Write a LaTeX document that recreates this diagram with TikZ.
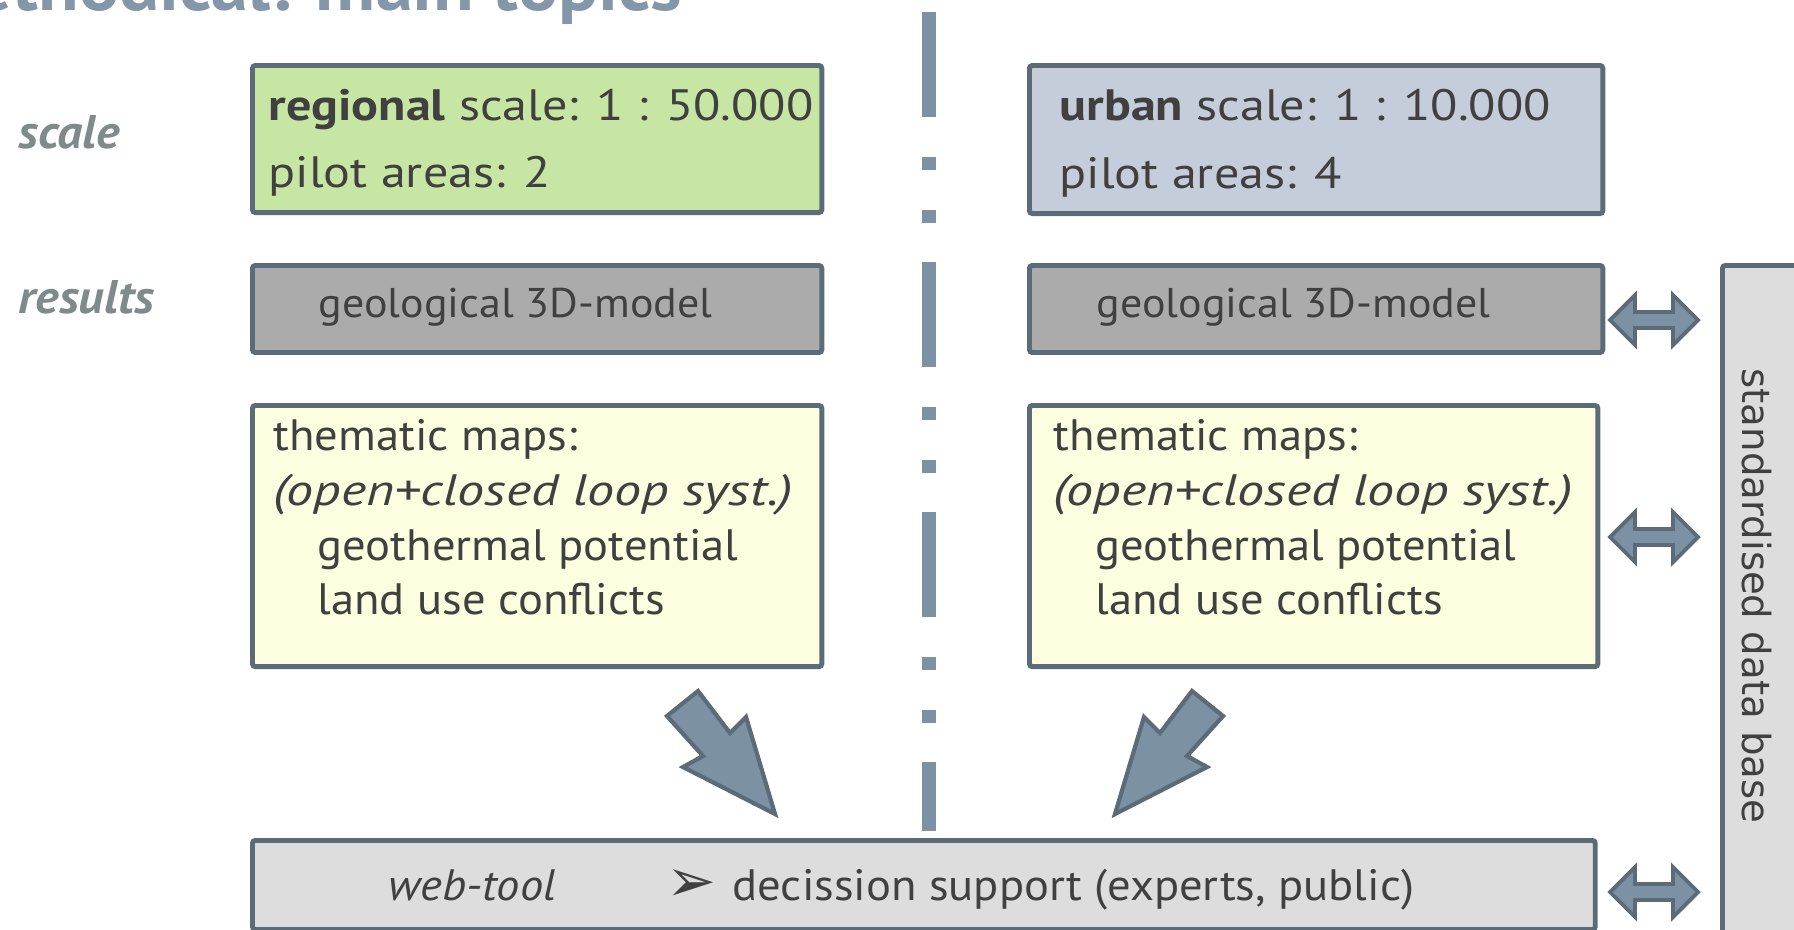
\documentclass[tikz,border=0pt]{standalone}
\usepackage{fontspec}
\setmainfont{PT Sans}[FakeStretch=1.06]
\newfontfamily\widefont{PT Sans}[FakeStretch=1.14]
\newfontfamily\wideit{PT Sans}[FakeStretch=1.23]
\newfontfamily\symfont{DejaVu Sans}

\definecolor{frame}{HTML}{5C6B78}
\definecolor{steel}{HTML}{7D91A5}
\definecolor{ink}{HTML}{404040}
\definecolor{labelc}{HTML}{7F8B8B}
\definecolor{titlec}{HTML}{8496A9}
\definecolor{greenf}{HTML}{C8E6A3}
\definecolor{bluef}{HTML}{C4CDD9}
\definecolor{darkf}{HTML}{ABABAB}
\definecolor{yellowf}{HTML}{FDFDDF}
\definecolor{lightf}{HTML}{DDDDDD}

\tikzset{
  box/.style={draw=frame, line width=1.4pt, rounded corners=0.8pt, anchor=north west, inner sep=0pt},
  txt/.style={anchor=base west, inner sep=0pt, text=ink, font=\fontsize{12.5}{14}\selectfont},
  toptxt/.style={txt, font=\widefont\fontsize{12.5}{14}\selectfont},
  rowlabel/.style={anchor=base west, inner sep=0pt, text=labelc, font=\fontsize{13.4}{15}\selectfont\bfseries\itshape},
  dblarrow/.style={draw=frame, fill=steel, line width=1.1pt, line join=miter},
  bigarrow/.style={draw=frame, fill=steel, line width=1.2pt, line join=miter},
  sepline/.style={steel, line width=0.14cm, dash pattern=on 1.05cm off 0.4cm on 0.13cm off 0.4cm on 0.13cm off 0.39cm}
}

\begin{document}
\begin{tikzpicture}[x=0.01cm, y=-0.01cm]
	\useasboundingbox (0,0) rectangle (1794,929);

	% title, cut by the top edge
	\node[anchor=base east, inner sep=0pt, text=titlec, font=\fontsize{20}{24}\selectfont\bfseries] (title) at (683,10) {Methodical: main topics};

	% row labels
	\node[rowlabel] (lscale) at (18,148) {scale};
	\node[rowlabel] (lresults) at (18,313) {results};

	% separator
	\draw[sepline] (929,12) -- (929,831);

	% left column
	\node[box, fill=greenf, minimum width=5.69cm, minimum height=1.47cm] (regional) at (250,63) {};
	\node[toptxt] (regT) at (268,120) {\textbf{regional} scale: 1 : 50.000};
	\node[toptxt] (regP) at (268,187) {pilot areas: 2};
	\node[box, fill=darkf, minimum width=5.69cm, minimum height=0.87cm] (geoL) at (250,263) {};
	\node[txt, font=\fontsize{11.8}{14}\selectfont] (geoLT) at (318,317) {geological 3D-model};
	\node[box, fill=yellowf, minimum width=5.69cm, minimum height=2.61cm] (themL) at (250,403) {};
	\node[txt] (thL1) at (273,450) {thematic maps:};
	\node[txt, font=\wideit\itshape\fontsize{12.5}{14}\selectfont] (thL2) at (273,505) {(open+closed loop syst.)};
	\node[txt] (thL3) at (317,560) {geothermal potential};
	\node[txt] (thL4) at (317,614) {land use conflicts};

	% right column
	\node[box, fill=bluef, minimum width=5.73cm, minimum height=1.48cm] (urban) at (1027,63) {};
	\node[toptxt] (urbT) at (1059,120) {\textbf{urban} scale: 1 : 10.000};
	\node[toptxt] (urbP) at (1059,188) {pilot areas: 4};
	\node[box, fill=darkf, minimum width=5.73cm, minimum height=0.87cm] (geoR) at (1027,263) {};
	\node[txt, font=\fontsize{11.8}{14}\selectfont] (geoRT) at (1096,317) {geological 3D-model};
	\node[box, fill=yellowf, minimum width=5.68cm, minimum height=2.61cm] (themR) at (1027,403) {};
	\node[txt] (thR1) at (1053,450) {thematic maps:};
	\node[txt, font=\wideit\itshape\fontsize{12.5}{14}\selectfont] (thR2) at (1053,505) {(open+closed loop syst.)};
	\node[txt] (thR3) at (1095,560) {geothermal potential};
	\node[txt] (thR4) at (1095,614) {land use conflicts};

	% web-tool and data base
	\node[box, fill=lightf, minimum width=13.42cm, minimum height=0.89cm] (web) at (250,838) {};
	\node[txt] (webT) at (388,900) {\textit{web-tool}};
	\node[txt] (webB) at (666,901) {{\symfont\fontsize{17}{18}\selectfont ➢}};
	\node[txt] (webS) at (732,900) {decission support (experts, public)};
	\node[box, fill=lightf, minimum width=1.0cm, minimum height=6.85cm] (db) at (1720,263) {};
	\node[inner sep=0pt, rotate=-90, text=ink, font=\symfont\fontsize{11}{13}\selectfont] (dbT) at (1757,596) {standardised data base};

	% links to the data base
	\foreach \yy in {320,537,892}
		\draw[dblarrow] (1610,\yy) -- (1635,\yy-25) -- (1635,\yy-8) -- (1673,\yy-8) -- (1673,\yy-25)
			-- (1698,\yy) -- (1673,\yy+25) -- (1673,\yy+8) -- (1635,\yy+8) -- (1635,\yy+25) -- cycle;

	% block arrows down to the web-tool
	\draw[bigarrow] (698,691) -- (730,733) -- (746,717) -- (775,814) -- (683,767) -- (703,756) -- (667,716) -- cycle;
	\draw[bigarrow] (1192,691) -- (1160,733) -- (1144,717) -- (1115,814) -- (1207,767) -- (1187,756) -- (1223,716) -- cycle;
\end{tikzpicture}
\end{document}
